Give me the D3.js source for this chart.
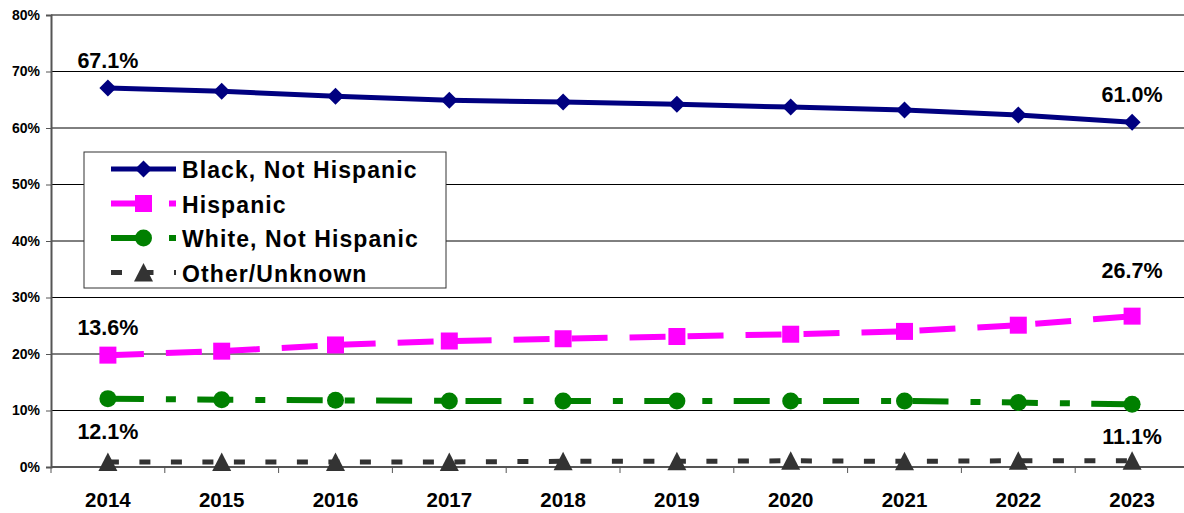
<!DOCTYPE html>
<html>
<head>
<meta charset="utf-8">
<script src="https://cdn.jsdelivr.net/npm/d3@7"></script>
<style>
  html, body { margin: 0; padding: 0; background: #fff; }
  svg { display: block; font-family: "Liberation Sans", Arial, sans-serif; font-weight: bold; }
</style>
</head>
<body>
<svg id="chart" width="1184" height="513"></svg>
<script>
// ---- data ----
const years = ["2014","2015","2016","2017","2018","2019","2020","2021","2022","2023"];
const seriesNames = ["Black, Not Hispanic", "Hispanic", "White, Not Hispanic", "Other/Unknown"];
const blackValues    = [67.1, 66.5, 65.6, 64.9, 64.6, 64.2, 63.7, 63.2, 62.3, 61.0];
const hispanicValues = [19.8, 20.5, 21.6, 22.3, 22.7, 23.1, 23.5, 24.0, 25.1, 26.7];
const whiteValues    = [12.1, 11.9, 11.8, 11.7, 11.7, 11.7, 11.7, 11.7, 11.4, 11.1];
const otherValues    = [0.9, 0.9, 0.9, 0.9, 1.0, 1.0, 1.1, 1.0, 1.1, 1.1];
const yTicks = [0, 10, 20, 30, 40, 50, 60, 70, 80];
// data labels: text, series index, year, placement
const labelTexts  = ["67.1%", "61.0%", "13.6%", "26.7%", "12.1%", "11.1%"];
const labelSeries = [0, 0, 1, 1, 2, 2];
const labelYears  = ["2014", "2023", "2014", "2023", "2014", "2023"];
const labelPlace  = ["above", "above", "above", "above2", "below", "below"];

// ---- styles ----
const colors  = ["#000080", "#FF00FF", "#008000", "#333333"];
const widths  = [5, 6, 6, 5];
const dashes  = [null, "36,22", "36,22,10,21.4", "11,20.5"];
const markers = ["diamond", "square", "circle", "triangle"];
const allValues = [blackValues, hispanicValues, whiteValues, otherValues];

const svg = d3.select("#chart");
const plotLeft = 51, plotRight = 51 + 10 * 113.8, plotTop = 15, plotBottom = 467;

const x = d3.scalePoint().domain(years).range([plotLeft, plotRight]).padding(0.5);
const xBand = d3.scaleBand().domain(years).range([plotLeft, plotRight]);
const y = d3.scaleLinear().domain([0, 80]).range([plotBottom, plotTop]);

function markerPath(type, r) {
  if (type === "diamond") return `M0,${-r}L${r},0L0,${r}L${-r},0Z`;
  if (type === "square") return `M${-r},${-r}H${r}V${r}H${-r}Z`;
  if (type === "circle") return `M${r},0A${r},${r} 0 1,1 ${-r},0A${r},${r} 0 1,1 ${r},0Z`;
  if (type === "triangle") return `M0,${-r - 0.5}L${r + 0.5},${r}L${-r - 0.5},${r}Z`;
}

// gridlines
svg.append("g").selectAll("line").data(yTicks.filter(d => d > 0)).join("line")
  .attr("x1", plotLeft).attr("x2", plotRight)
  .attr("y1", d => y(d)).attr("y2", d => y(d))
  .attr("stroke", "#000").attr("stroke-width", 1);

// y axis
const yAxis = svg.append("g").attr("transform", `translate(${plotLeft},0)`)
  .call(d3.axisLeft(y).tickValues(yTicks).tickSize(5).tickPadding(6).tickFormat(d => d + "%"));
yAxis.select(".domain").attr("stroke", "#555").attr("stroke-width", 2);
yAxis.selectAll(".tick line").attr("stroke", "#555");
yAxis.selectAll(".tick text").attr("font-size", 14).attr("font-weight", "bold")
  .attr("font-family", "'Liberation Sans', Arial, sans-serif").attr("fill", "#000");

// x axis (ticks at category boundaries)
svg.append("line").attr("x1", plotLeft).attr("x2", plotRight).attr("y1", plotBottom).attr("y2", plotBottom)
  .attr("stroke", "#555").attr("stroke-width", 2);
svg.append("g").selectAll("line").data(years).join("line")
  .attr("x1", d => xBand(d)).attr("x2", d => xBand(d))
  .attr("y1", plotBottom).attr("y2", plotBottom + 6)
  .attr("stroke", "#555").attr("stroke-width", 1);
svg.append("g").selectAll("text").data(years).join("text")
  .attr("x", d => x(d)).attr("y", 507)
  .attr("text-anchor", "middle").attr("font-size", 20.5).text(d => d);

// series
const line = d3.line().x((d, i) => x(years[i])).y(d => y(d));
allValues.forEach((vals, s) => {
  const g = svg.append("g");
  g.append("path").attr("d", line(vals))
    .attr("fill", "none").attr("stroke", colors[s]).attr("stroke-width", widths[s])
    .attr("stroke-dasharray", dashes[s]).attr("stroke-linejoin", "round");
  g.selectAll("path.m").data(vals).join("path").attr("class", "m")
    .attr("transform", (d, i) => `translate(${x(years[i])},${y(d)})`)
    .attr("d", markerPath(markers[s], s === 3 ? 9 : 8.5))
    .attr("fill", colors[s]);
});

// data labels
labelTexts.forEach((t, k) => {
  const vals = allValues[labelSeries[k]];
  const i = years.indexOf(labelYears[k]);
  const py = y(vals[i]);
  const off = labelPlace[k] === "above" ? -20 : labelPlace[k] === "above2" ? -38 : 40;
  svg.append("text").attr("x", x(labelYears[k])).attr("y", py + off)
    .attr("text-anchor", "middle").attr("font-size", 21.5).text(t);
});

// legend
const lg = svg.append("g");
lg.append("rect").attr("x", 84).attr("y", 152).attr("width", 362).attr("height", 136)
  .attr("fill", "#fff").attr("stroke", "#333").attr("stroke-width", 1);
seriesNames.forEach((name, s) => {
  const cy = 169 + s * 34.5;
  lg.append("line").attr("x1", 111).attr("x2", 176).attr("y1", cy).attr("y2", cy)
    .attr("stroke", colors[s]).attr("stroke-width", widths[s]).attr("stroke-dasharray", dashes[s]);
  lg.append("path").attr("transform", `translate(143.5,${cy})`)
    .attr("d", markerPath(markers[s], s === 3 ? 9 : 8.5)).attr("fill", colors[s]);
  lg.append("text").attr("x", 182).attr("y", cy + 9).attr("font-size", 23)
    .attr("letter-spacing", 1.1).text(name);
});
</script>
</body>
</html>
